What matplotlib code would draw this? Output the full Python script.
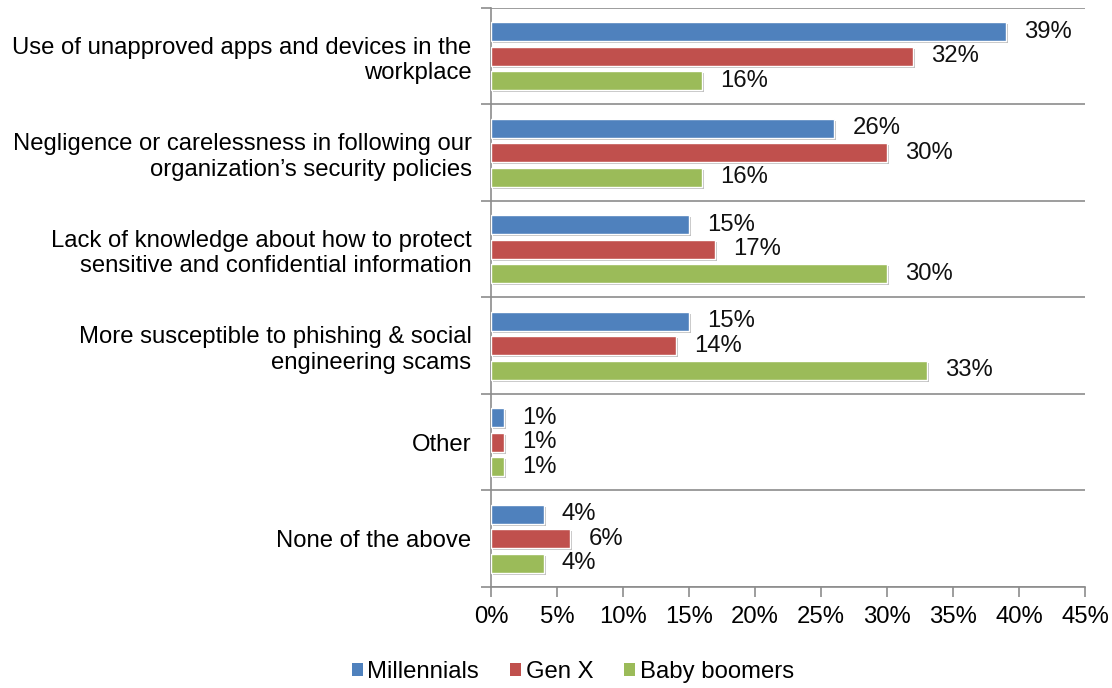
import matplotlib
matplotlib.use("Agg")
import matplotlib.pyplot as plt
import matplotlib.patheffects as pe
from matplotlib.patches import Patch
import numpy as np

plt.rcParams['font.family'] = ['Liberation Sans', 'DejaVu Sans']

categories = [
    "Use of unapproved apps and devices in the\nworkplace",
    "Negligence or carelessness in following our\norganization\u2019s security policies",
    "Lack of knowledge about how to protect\nsensitive and confidential information",
    "More susceptible to phishing & social\nengineering scams",
    "Other",
    "None of the above",
]
series_names = ["Millennials", "Gen X", "Baby boomers"]
millennials = [39, 26, 15, 15, 1, 4]
gen_x = [32, 30, 17, 14, 1, 6]
baby_boomers = [16, 16, 30, 33, 1, 4]
x_ticks = [0, 5, 10, 15, 20, 25, 30, 35, 40, 45]

colors = ["#4F81BD", "#C0504D", "#9BBB59"]
series = [millennials, gen_x, baby_boomers]
FS = 17.2

fig = plt.figure(figsize=(11.12, 6.88), dpi=100)
ax = fig.add_axes([491/1112, 1 - 587/688, 594/1112, 579/688])

n = len(categories)
y = np.arange(n)
pitch = 0.254
height = 0.195
shadow = [pe.SimplePatchShadow(offset=(1.5, -1.5), shadow_rgbFace='#000000', alpha=0.25), pe.Normal()]

for i, (vals, col, name) in enumerate(zip(series, colors, series_names)):
    pos = y + (i - 1) * pitch
    bars = ax.barh(pos, vals, height=height, color=col, edgecolor='white',
                   linewidth=1.0, zorder=3)
    for b in bars:
        b.set_path_effects(shadow)
    for p, v in zip(pos, vals):
        ax.annotate(f"{v}%", xy=(v, p), xytext=(13, 0), textcoords='offset points',
                    ha='left', va='center', fontsize=FS, color='#111111', zorder=4)

ax.set_xlim(0, 45)
ax.set_ylim(n - 0.5, -0.5)
ax.set_xticks(x_ticks)
ax.set_xticklabels([f"{t}%" for t in x_ticks], fontsize=FS)

# category boundaries as major ticks / grid; labels on minor ticks at centres
ax.set_yticks(np.arange(-0.5, n, 1.0))
ax.set_yticklabels([])
ax.set_yticks(y, minor=True)
ax.set_yticklabels(categories, minor=True, fontsize=FS, ha='right', linespacing=1.2)
ax.tick_params(axis='y', which='minor', length=0, pad=14)
ax.tick_params(axis='y', which='major', length=7, color='#8c8c8c', width=1.2)
ax.tick_params(axis='x', length=7, color='#8c8c8c', width=1.2, pad=7)
ax.yaxis.grid(True, which='major', color='#8c8c8c', linewidth=1.2, zorder=0)
ax.set_axisbelow(True)

for s in ['top', 'right']:
    ax.spines[s].set_visible(False)
for s in ['left', 'bottom']:
    ax.spines[s].set_color('#8c8c8c')
    ax.spines[s].set_linewidth(1.2)

handles = [Patch(facecolor=c, edgecolor='none', label=nm) for c, nm in zip(colors, series_names)]
fig.legend(handles=handles, loc='center', bbox_to_anchor=(573/1112, 1 - 672/688), ncol=3,
           frameon=False, fontsize=FS, handlelength=0.45, handleheight=0.45,
           handletextpad=0.2, columnspacing=1.3)

fig.savefig("out.png", dpi=100)
